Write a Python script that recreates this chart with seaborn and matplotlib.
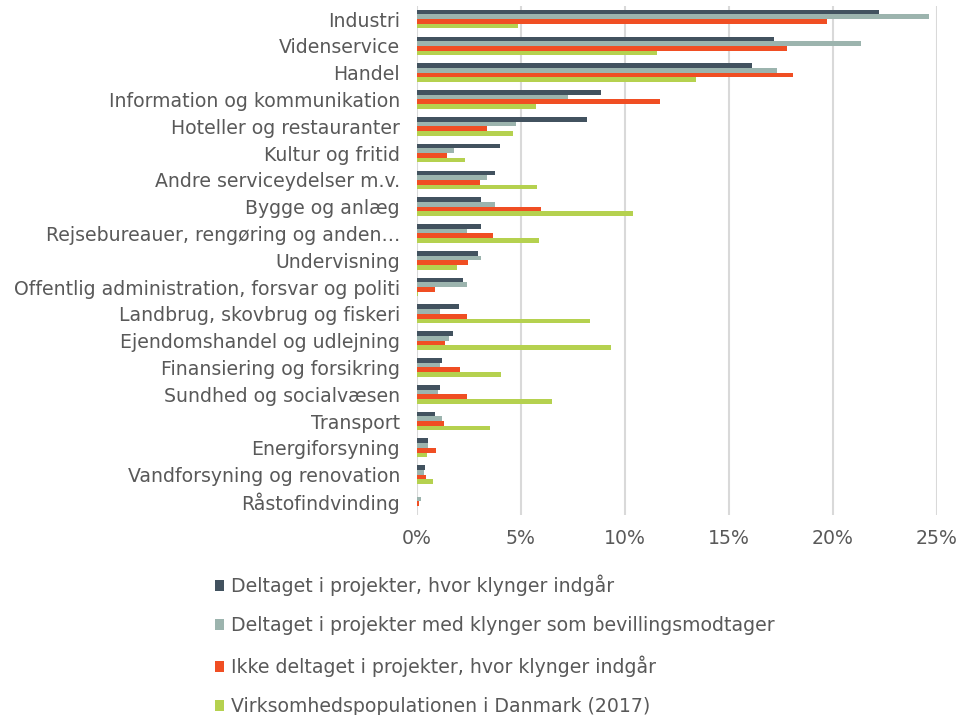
import matplotlib
matplotlib.use("Agg")
import matplotlib.pyplot as plt
from matplotlib.patches import Patch
from matplotlib.ticker import FuncFormatter
import seaborn as sns
import pandas as pd

categories = [
    "Industri", "Videnservice", "Handel", "Information og kommunikation",
    "Hoteller og restauranter", "Kultur og fritid", "Andre serviceydelser m.v.",
    "Bygge og anlæg", "Rejsebureauer, rengøring og anden…", "Undervisning",
    "Offentlig administration, forsvar og politi", "Landbrug, skovbrug og fiskeri",
    "Ejendomshandel og udlejning", "Finansiering og forsikring",
    "Sundhed og socialvæsen", "Transport", "Energiforsyning",
    "Vandforsyning og renovation", "Råstofindvinding",
]
series_names = [
    "Deltaget i projekter, hvor klynger indgår",
    "Deltaget i projekter med klynger som bevillingsmodtager",
    "Ikke deltaget i projekter, hvor klynger indgår",
    "Virksomhedspopulationen i Danmark (2017)",
]
deltaget = [22.2, 17.15, 16.1, 8.87, 8.16, 4.02, 3.75, 3.08, 3.08, 2.94,
            2.2, 2.04, 1.72, 1.22, 1.12, 0.86, 0.52, 0.40, 0.03]
bevilling = [24.6, 21.36, 17.3, 7.28, 4.78, 1.8, 3.38, 3.76, 2.41, 3.11,
             2.41, 1.1, 1.55, 1.1, 1.01, 1.19, 0.55, 0.34, 0.2]
ikke = [19.7, 17.8, 18.06, 11.7, 3.38, 1.43, 3.04, 5.95, 3.68, 2.46,
        0.86, 2.41, 1.36, 2.1, 2.41, 1.31, 0.91, 0.45, 0.12]
population = [4.86, 11.56, 13.4, 5.74, 4.62, 2.34, 5.77, 10.41, 5.86, 1.91,
              0.05, 8.33, 9.33, 4.06, 6.51, 3.52, 0.48, 0.77, 0.0]
colors = ["#42525F", "#9CB4AE", "#F04E23", "#B5D14F"]

rows = []
for name, vals in zip(series_names, [deltaget, bevilling, ikke, population]):
    for c, v in zip(categories, vals):
        rows.append({"Branche": c, "Serie": name, "Andel": v})
df = pd.DataFrame(rows)

sns.set_style("white")
plt.rcParams["font.family"] = ["DejaVu Sans"]
text_color = "#595959"

fig = plt.figure(figsize=(9.67, 7.15), dpi=100)
ax = fig.add_axes([0.431, 0.280, 0.538, 0.712])

sns.barplot(data=df, x="Andel", y="Branche", hue="Serie", order=categories,
            hue_order=series_names, palette=colors, orient="h", width=0.7,
            saturation=1, linewidth=0, edgecolor="none", ax=ax, legend=False)

ax.set_xlim(0, 25)
ax.set_xticks([0, 5, 10, 15, 20, 25])
ax.xaxis.set_major_formatter(FuncFormatter(lambda v, p: f"{int(v)}%"))
ax.grid(axis="x", color="#D9D9D9", linewidth=1.5)
ax.set_axisbelow(True)
for s in ax.spines.values():
    s.set_visible(False)
ax.set_xlabel("")
ax.set_ylabel("")
ax.tick_params(axis="both", length=0, colors=text_color)
ax.tick_params(axis="y", labelsize=13.6, pad=12)
ax.tick_params(axis="x", labelsize=13.6, pad=10)
ax.set_ylim(len(categories) - 0.5, -0.5)

handles = [Patch(facecolor=c, edgecolor="none") for c in colors]
fig.legend(handles, series_names, loc="upper left", bbox_to_anchor=(0.222, 0.196),
           frameon=False, fontsize=13.6, labelcolor=text_color,
           handlelength=0.5, handleheight=0.5, handletextpad=0.35,
           labelspacing=1.06, borderaxespad=0, borderpad=0)

fig.savefig("out.png", dpi=100)
